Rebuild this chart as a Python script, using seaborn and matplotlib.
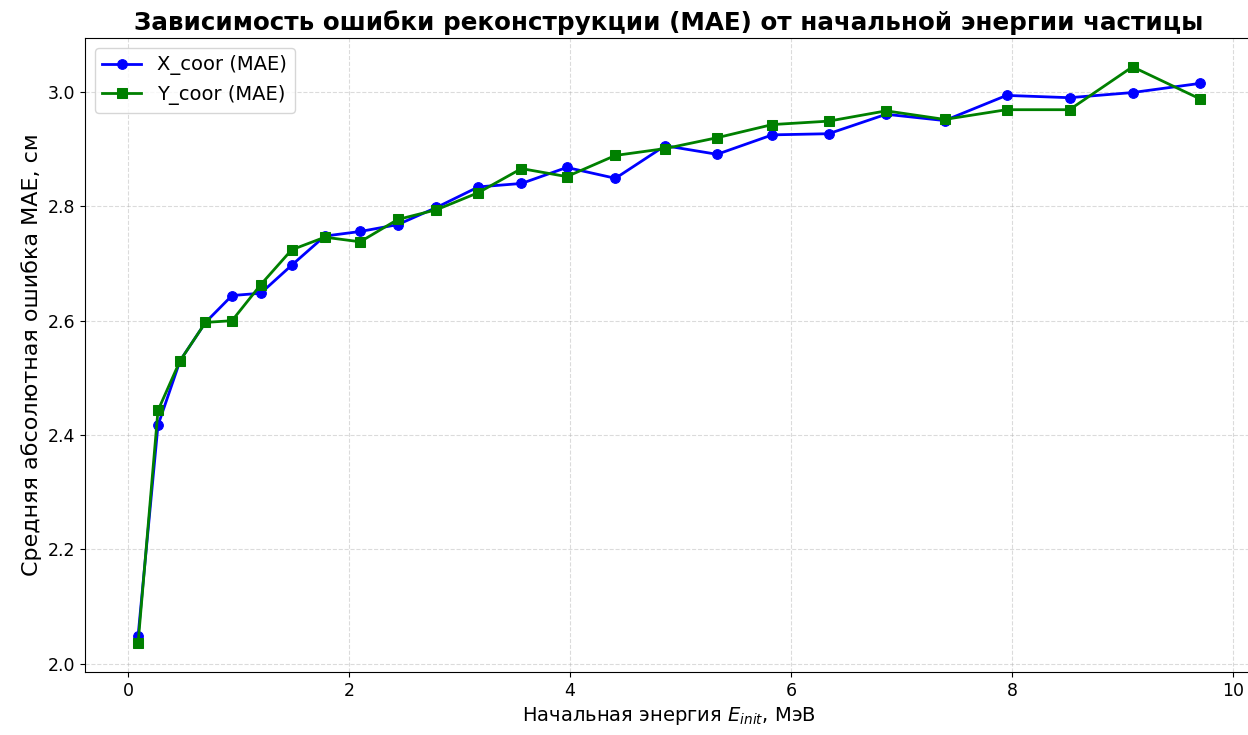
import numpy as np
import pandas as pd
import matplotlib
matplotlib.use('Agg')
import matplotlib.pyplot as plt
import seaborn as sns

# ===================== данные =====================
energy = [0.09, 0.27, 0.47, 0.70, 0.94, 1.20, 1.48, 1.78, 2.10, 2.44,
          2.79, 3.17, 3.56, 3.97, 4.41, 4.86, 5.33, 5.83, 6.34, 6.86,
          7.39, 7.95, 8.52, 9.09, 9.70]

mae_x = [2.049, 2.417, 2.530, 2.597, 2.644, 2.648, 2.697, 2.748, 2.756, 2.768,
         2.798, 2.834, 2.840, 2.868, 2.849, 2.906, 2.891, 2.925, 2.927, 2.961,
         2.950, 2.994, 2.990, 2.999, 3.015]

mae_y = [2.036, 2.443, 2.530, 2.597, 2.600, 2.663, 2.724, 2.746, 2.738, 2.777,
         2.794, 2.824, 2.866, 2.852, 2.889, 2.901, 2.920, 2.943, 2.949, 2.967,
         2.952, 2.969, 2.969, 3.044, 2.988]

label_x = 'X_coor (MAE)'
label_y = 'Y_coor (MAE)'

df = pd.DataFrame({'energy': energy, 'mae_x': mae_x, 'mae_y': mae_y})

# ===================== график =====================
W, H = 1248, 735
fig = plt.figure(figsize=(W / 100, H / 100), dpi=100)
# правый край осей уходит чуть за пределы картинки, как в оригинале
ax = fig.add_axes([85 / W, 1 - 672 / H, (1253 - 85) / W, (672 - 38) / H])

sns.lineplot(data=df, x='energy', y='mae_x', ax=ax, color='blue', marker='o',
             markersize=7, markeredgecolor='blue', linewidth=2, label=label_x)
sns.lineplot(data=df, x='energy', y='mae_y', ax=ax, color='green', marker='s',
             markersize=7, markeredgecolor='green', linewidth=2, label=label_y)

ax.set_title('Зависимость ошибки реконструкции (MAE) от начальной энергии частицы',
             fontsize=17.7, fontweight='bold')
ax.set_xlabel(r'Начальная энергия $E_{init}$, МэВ', fontsize=14)
ax.set_ylabel('Средняя абсолютная ошибка MAE, см', fontsize=16)
ax.tick_params(labelsize=12.5)
ax.grid(True, linestyle='--', alpha=0.45)
ax.legend(loc='upper left', fontsize=14)

plt.savefig('out.png', dpi=100)
plt.close()
